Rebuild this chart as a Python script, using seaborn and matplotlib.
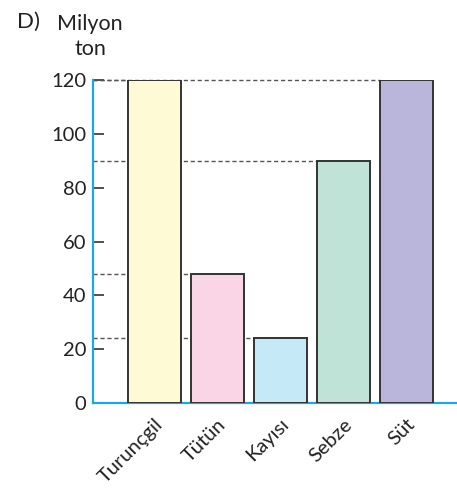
import matplotlib
matplotlib.use("Agg")
import matplotlib.pyplot as plt
import seaborn as sns
import pandas as pd

categories = ["Turunçgil", "Tütün", "Kayısı", "Sebze", "Süt"]
values = [120, 48, 24, 90, 120]
colors = ["#fefad6", "#f9d5e6", "#c6e9f8", "#bfe3d6", "#bab5da"]
yticks = [0, 20, 40, 60, 80, 100, 120]

sns.set_style("white")
plt.rcParams["font.family"] = ["Lato", "DejaVu Sans"]

df = pd.DataFrame({"urun": categories, "miktar": values})

fig = plt.figure(figsize=(4.57, 4.88), dpi=100)
ax = fig.add_axes([0.2035, 0.174, 0.7965, 0.662])

sns.barplot(data=df, x="urun", y="miktar", hue="urun", palette=colors,
            legend=False, width=0.84, edgecolor="#333333", linewidth=1.4,
            saturation=1, ax=ax, zorder=3)

ax.set_xlim(-0.968, 4.80)
ax.set_ylim(0, 120)

# dashed guide lines from the axis to each bar (hidden behind bars)
xmin = ax.get_xlim()[0]
for i, v in enumerate(values):
    left = i - 0.42
    ax.hlines(v, xmin, left, colors="#555555", linestyles=(0, (3, 2)),
              linewidth=1, zorder=2, clip_on=False)

axis_blue = "#1fa8e0"
for side in ["top", "right"]:
    ax.spines[side].set_visible(False)
ax.spines["left"].set_color(axis_blue)
ax.spines["bottom"].set_color(axis_blue)
ax.spines["left"].set_linewidth(1.6)
ax.spines["bottom"].set_linewidth(1.6)
ax.spines["left"].set_zorder(4)

ax.set_yticks(yticks)
ax.tick_params(axis="y", direction="in", length=8, width=1.2, color="#333333",
               labelsize=14.5, labelcolor="#222222", pad=5, left=True)
ax.tick_params(axis="x", length=0, labelsize=14.5, labelcolor="#222222", pad=9)
plt.setp(ax.get_xticklabels(), rotation=45, ha="right", rotation_mode="anchor")

ax.set_xlabel("")
ax.set_ylabel("")
ax.grid(False)

fig.text(0.037, 0.955, "D)", fontsize=16, color="#222222", va="center")
fig.text(0.197, 0.926, "Milyon\nton", fontsize=15.5, color="#222222",
         ha="center", va="center", linespacing=1.32)

fig.savefig("out.png", dpi=100)
